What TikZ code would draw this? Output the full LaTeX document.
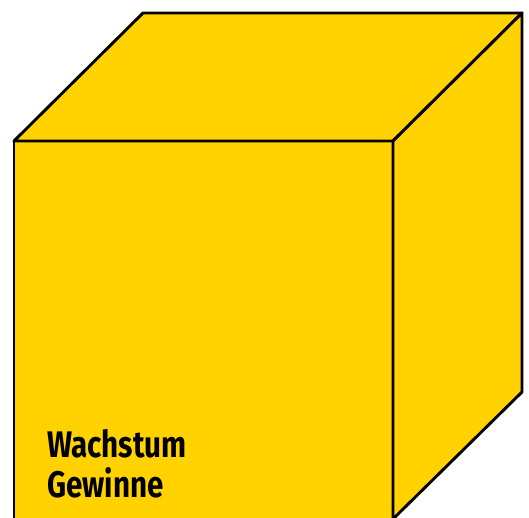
\documentclass[tikz,border=0pt]{standalone}
\usepackage{fontspec}
\newfontfamily\labelfont[FakeStretch=0.8]{Fira Sans}
\usetikzlibrary{positioning}
\definecolor{cubeyellow}{RGB}{255,210,0}

\begin{document}
\begin{tikzpicture}[
        x=1pt, y=-1pt,
        face/.style={draw=black, fill=cubeyellow, line width=2.9pt, line join=round},
        label/.style={font=\labelfont\bfseries\fontsize{37}{40}\selectfont, align=left, anchor=north west, inner sep=0pt}
    ]
        \useasboundingbox (0,0) rectangle (529,518);
        % corners of the cube
        \coordinate (fl) at (14,141);
        \coordinate (fr) at (393,141);
        \coordinate (bl) at (143,13);
        \coordinate (br) at (522,13);
        \coordinate (rb) at (522,392);
        \coordinate (fb) at (393,519);
        \coordinate (lb) at (14,519);

        \fill[cubeyellow] (fl) -- (fr) -- (fb) -- (lb) -- cycle;
        \draw[face] (fl) -- (bl) -- (br) -- (fr) -- cycle;
        \draw[face] (fr) -- (br) -- (rb) -- (fb) -- cycle;
        \draw[black, line width=2.9pt] (lb) -- (fl) -- (fr);

        \node[label] (text) at (47,429) {Wachstum\\Gewinne};
    \end{tikzpicture}
\end{document}
